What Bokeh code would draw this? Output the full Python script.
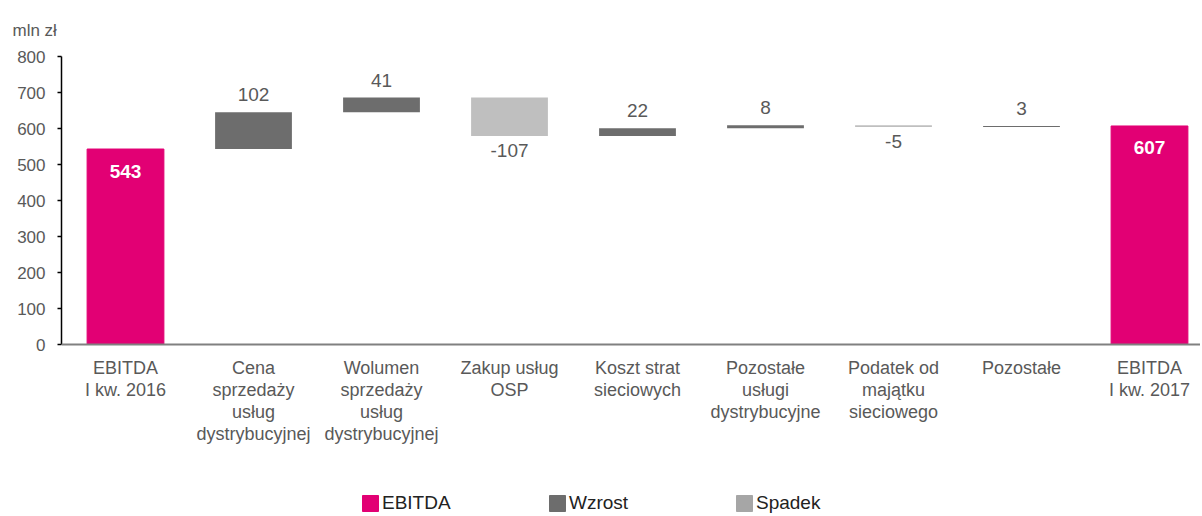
from bokeh.plotting import figure
from bokeh.models import ColumnDataSource, FixedTicker, Legend, LegendItem, Title, Span
from bokeh.core.properties import value
from bokeh.embed import file_html
from bokeh.resources import INLINE

categories = ["EBITDA\nI kw. 2016", "Cena\nsprzedaży\nusług\ndystrybucyjnej",
              "Wolumen\nsprzedaży\nusług\ndystrybucyjnej", "Zakup usług\nOSP",
              "Koszt strat\nsieciowych", "Pozostałe\nusługi\ndystrybucyjne",
              "Podatek od\nmajątku\nsieciowego", "Pozostałe", "EBITDA\nI kw. 2017"]
start_total = 543
deltas = [102, 41, -107, 22, 8, -5, 3]
end_total = 607
y_ticks = [0, 100, 200, 300, 400, 500, 600, 700, 800]
unit_label = "mln zł"

C_EBITDA = "#E20074"
C_UP = "#6D6D6D"
C_DOWN = "#BFBFBF"
C_DOWN_LEG = "#A6A6A6"
FONT = "Liberation Sans"
TXT = "#595959"

# waterfall geometry derived from the values
tot_x = [0, len(categories) - 1]
tot_top = [start_total, end_total]
d_x, d_bot, d_top, d_col = [], [], [], []
run = start_total
for i, d in enumerate(deltas):
    nxt = run + d
    d_x.append(i + 1)
    d_bot.append(min(run, nxt))
    d_top.append(max(run, nxt))
    d_col.append(C_UP if d >= 0 else C_DOWN)
    run = nxt

pos = [(x, t, str(d)) for x, t, d in zip(d_x, d_top, deltas) if d >= 0]
neg = [(x, b, str(d)) for x, b, d in zip(d_x, d_bot, deltas) if d < 0]

# layout: frame spans from the 800 line down to the bottom of the figure
W = 1200
H = 514
TOP = 56
LEFT = 61
PX_PER_UNIT = 288 / 800.0
frame_h = H - TOP
y_start = 800 - frame_h / PX_PER_UNIT
x_end = (W - LEFT) / 128.0 - 0.5

p = figure(width=W, height=H, output_backend="svg", toolbar_location=None,
           x_range=(-0.5, x_end), y_range=(y_start, 800),
           min_border_left=LEFT, min_border_right=0, min_border_top=TOP, min_border_bottom=0)
p.outline_line_color = None
p.xgrid.visible = False
p.ygrid.visible = False
p.xaxis.visible = False

p.vbar(x=tot_x, top=tot_top, bottom=0, width=0.6, color=C_EBITDA)
p.vbar(x=d_x, top=d_top, bottom=d_bot, width=0.6, fill_color=d_col, line_color=None)

p.add_layout(Span(location=0, dimension="width", line_color="#808080", line_width=2))

p.text(x=tot_x, y=tot_top, text=[str(v) for v in tot_top], text_color="white",
       text_font=value(FONT), text_font_style="bold", text_font_size="19px",
       text_align="center", text_baseline="middle", y_offset=22)
p.text(x=[a[0] for a in pos], y=[a[1] for a in pos], text=[a[2] for a in pos],
       text_color=TXT, text_font=value(FONT), text_font_size="19px",
       text_align="center", text_baseline="bottom", y_offset=-11)
p.text(x=[a[0] for a in neg], y=[a[1] for a in neg], text=[a[2] for a in neg],
       text_color=TXT, text_font=value(FONT), text_font_size="19px",
       text_align="center", text_baseline="top", y_offset=8)

# category labels
p.text(x=list(range(len(categories))), y=[0] * len(categories), text=categories,
       text_color=TXT, text_font=value(FONT), text_font_size="18px",
       text_align="center", text_baseline="top", text_line_height=1.1, y_offset=13)

# y axis
p.yaxis.ticker = FixedTicker(ticks=y_ticks)
p.yaxis.bounds = (0, 800)
p.yaxis.axis_line_color = "black"
p.yaxis.axis_line_width = 1.5
p.yaxis.major_tick_line_color = "black"
p.yaxis.major_tick_line_width = 1.5
p.yaxis.major_tick_out = 4
p.yaxis.major_tick_in = 0
p.yaxis.minor_tick_line_color = None
p.yaxis.major_label_text_font = FONT
p.yaxis.major_label_text_font_size = "17px"
p.yaxis.major_label_text_color = TXT
p.yaxis.major_label_standoff = 12

t = Title(text=unit_label, align="left", text_font=FONT, text_font_size="17px",
          text_font_style="normal", text_color=TXT, offset=-49, standoff=34)
p.add_layout(t, "above")

# legend
nan = float("nan")
r1 = p.vbar(x="x", top="top", width=0.6, color=C_EBITDA, source=ColumnDataSource(data=dict(x=[nan], top=[nan])))
r2 = p.vbar(x="x", top="top", width=0.6, color=C_UP, source=ColumnDataSource(data=dict(x=[nan], top=[nan])))
r3 = p.vbar(x="x", top="top", width=0.6, color=C_DOWN_LEG, source=ColumnDataSource(data=dict(x=[nan], top=[nan])))
legend = Legend(items=[LegendItem(label="EBITDA", renderers=[r1]),
                       LegendItem(label="Wzrost", renderers=[r2]),
                       LegendItem(label="Spadek", renderers=[r3])],
                orientation="horizontal", location=(299, 0),
                glyph_width=20, glyph_height=20, label_standoff=2, label_width=151,
                spacing=14, padding=0, margin=0, border_line_color=None,
                background_fill_alpha=0,
                label_text_font=FONT, label_text_font_size="19px", label_text_color="#222222")
p.add_layout(legend, "center")

open("out.html", "w").write(file_html(p, INLINE))
